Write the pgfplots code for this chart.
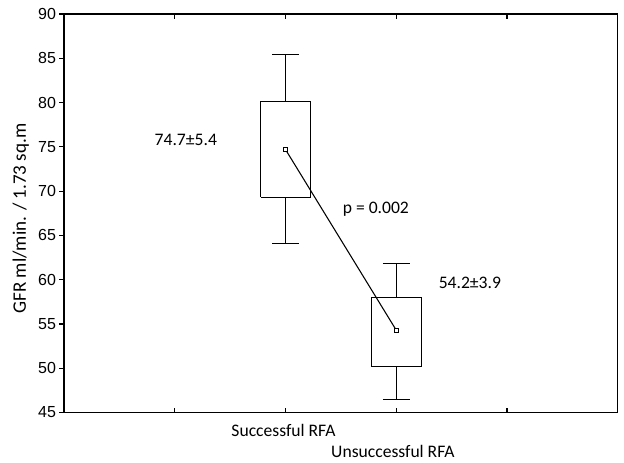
\documentclass[border=0pt]{standalone}
\usepackage{pgfplots}
\pgfplotsset{compat=1.18}
\usepackage{fontspec}
\setmainfont{Carlito}
\newfontfamily\arialf{Liberation Sans}
\begin{document}
\begin{tikzpicture}
\useasboundingbox (-48pt,-37.85pt) rectangle (420pt,309.4pt);
\begin{axis}[
  scale only axis,
  width=415.3pt, height=298.9pt,
  at={(0,0)}, anchor=south west,
  xmin=0, xmax=5, ymin=45, ymax=90,
  xtick={1,2,4},
  xticklabels={{},{Successful RFA},{}},
  extra x ticks={3},
  extra x tick labels={Unsuccessful RFA},
  extra x tick style={tick label style={yshift=-16pt, xshift=-1pt}},
  ytick={45,50,...,90},
  /pgf/number format/assume math mode=true,
  axis line style={line width=0.9pt},
  every tick/.style={black, line width=0.8pt},
  major tick length=3.5pt,
  xtick pos=both, xtick align=inside,
  ytick pos=left, ytick align=outside,
  y tick label style={font=\arialf\fontsize{12}{14}\selectfont, xshift=1pt},
  x tick label style={font=\fontsize{13.2}{15}\selectfont, yshift=-5pt, xshift=-1.5pt},
  ylabel={GFR ml/min. / 1.73 sq.m},
  ylabel style={font=\fontsize{14.3}{16}\selectfont, yshift=0pt, xshift=-4pt},
  clip=false,
]
% Successful RFA box
\addplot[black, line width=0.9pt] coordinates {(1.775,69.3) (2.226,69.3) (2.226,80.1) (1.775,80.1) (1.775,69.3)};
\addplot[black, line width=0.9pt] coordinates {(2,80.1) (2,85.4)};
\addplot[black, line width=0.9pt] coordinates {(1.88,85.4) (2.12,85.4)};
\addplot[black, line width=0.9pt] coordinates {(2,69.3) (2,64.1)};
\addplot[black, line width=0.9pt] coordinates {(1.88,64.1) (2.12,64.1)};
% Unsuccessful RFA box
\addplot[black, line width=0.9pt] coordinates {(2.775,50.2) (3.226,50.2) (3.226,58.0) (2.775,58.0) (2.775,50.2)};
\addplot[black, line width=0.9pt] coordinates {(3,58.0) (3,61.8)};
\addplot[black, line width=0.9pt] coordinates {(2.88,61.8) (3.12,61.8)};
\addplot[black, line width=0.9pt] coordinates {(3,50.2) (3,46.5)};
\addplot[black, line width=0.9pt] coordinates {(2.88,46.5) (3.12,46.5)};
% means
\addplot[black, line width=0.8pt, mark=square*, mark size=1.6pt,
  mark options={fill=white, line width=0.5pt}] coordinates {(2,74.7) (3,54.3)};
\node[font=\fontsize{13.2}{15}\selectfont] at (axis cs:1.10,75.75) {74.7±5.4};
\node[font=\fontsize{13.2}{15}\selectfont] at (axis cs:2.816,67.95) {p = 0.002};
\node[font=\fontsize{13.2}{15}\selectfont] at (axis cs:3.665,59.62) {54.2±3.9};
\end{axis}
\end{tikzpicture}
\end{document}
